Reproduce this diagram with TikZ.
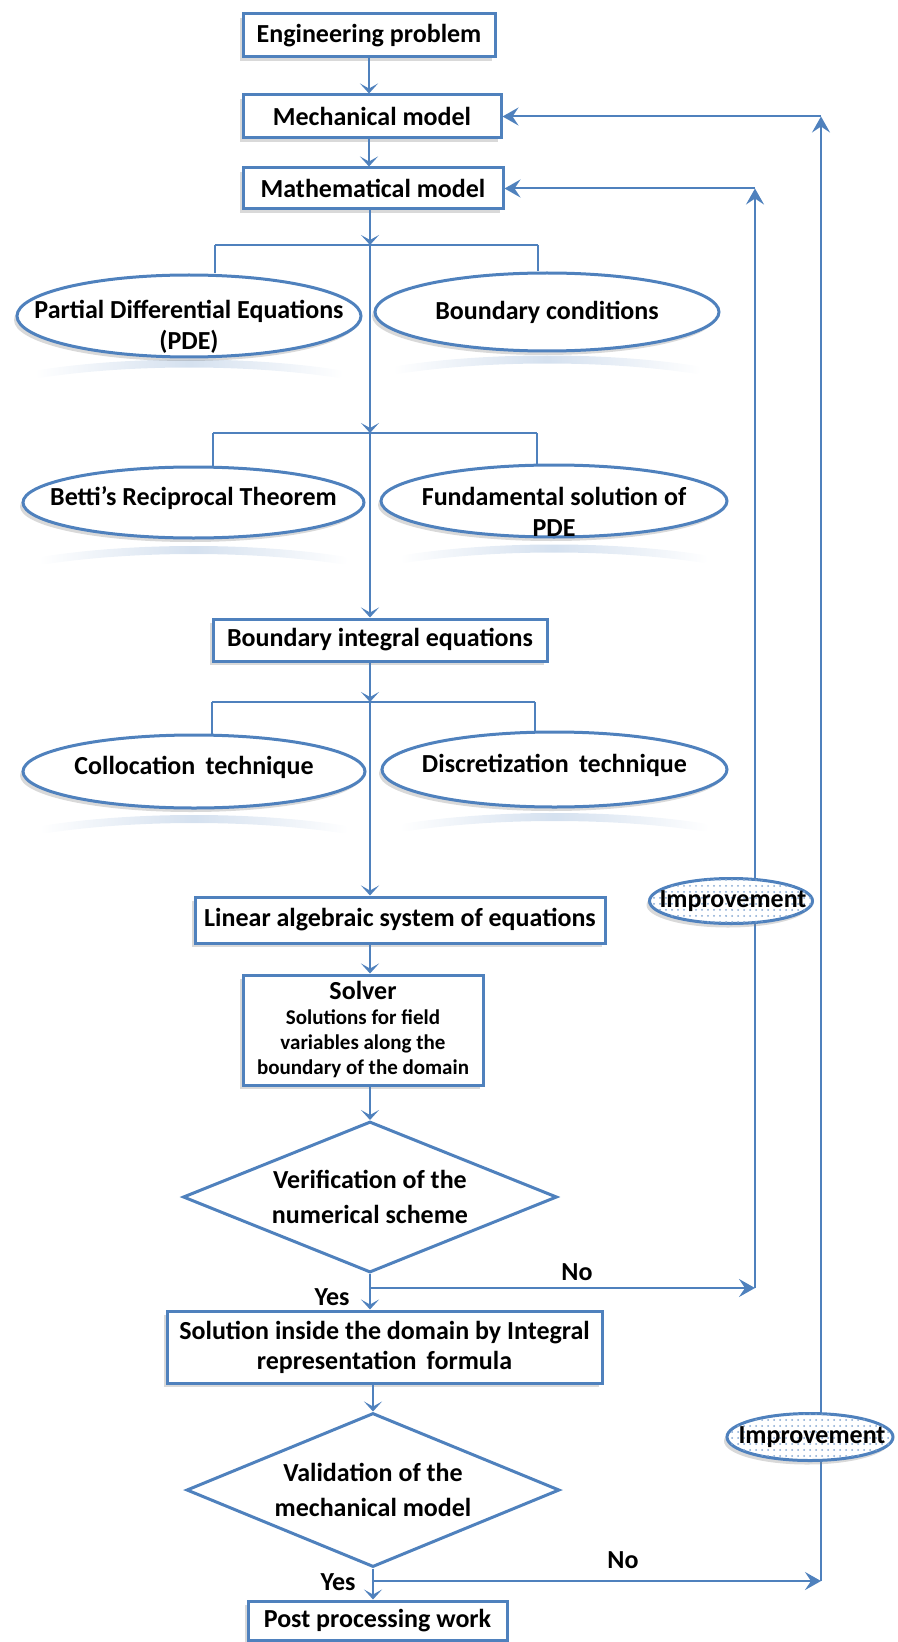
\documentclass[tikz,border=0pt]{standalone}
\usepackage{fontspec}
\setmainfont{Carlito}
\usetikzlibrary{shapes.geometric,arrows.meta,shadows,patterns,calc,fadings}
\definecolor{myblue}{RGB}{79,129,189}
\tikzfading[name=fadesides, left color=transparent!100, right color=transparent!100, middle color=transparent!20]
\begin{document}
\begin{tikzpicture}[x=0.5pt,y=-0.5pt,
  txt/.style={font=\bfseries\fontsize{13}{15.5}\selectfont, text=black, align=center, inner sep=0pt},
  shad/.style={drop shadow={shadow xshift=-1.5pt, shadow yshift=-2pt, opacity=0.3}},
  box/.style={rectangle, draw=myblue, line width=1.5pt, fill=white, inner sep=0pt, shad,
              font=\bfseries\fontsize{13}{15}\selectfont, align=center},
  ell/.style={ellipse, draw=myblue, line width=1.5pt, fill=white, inner sep=0pt, shad},
  dia/.style={diamond, aspect=2.5, draw=myblue, line width=1.5pt, fill=white, inner sep=0pt,
              font=\bfseries\fontsize{13}{17.5}\selectfont, align=center},
  imp/.style={ellipse, draw=myblue, line width=1.5pt, fill=white, inner sep=0pt, shad,
              postaction={pattern=dots, pattern color=myblue!70}},
  ln/.style={draw=myblue, line width=1pt},
  arr/.style={ln, -{Stealth[length=5pt,width=9pt,inset=2.5pt]}},
  farr/.style={ln, -{Stealth[length=8pt,width=9pt,inset=3pt]}},
  refl/.style={draw=myblue!30, line width=4pt, line cap=round, path fading=fadesides},
  lab/.style={font=\bfseries\fontsize{13}{15}\selectfont, text=black, inner sep=0pt}
]
\useasboundingbox (0,0) rectangle (898,1642);

% central axis
\coordinate (ax) at (370,0);

% top boxes
\node[box, minimum width=126pt, minimum height=21.5pt] (eng) at (369,35.5) {Engineering problem};
\node[box, minimum width=129pt, minimum height=21.5pt] (mech) at (372,116.5) {Mechanical model};
\node[box, minimum width=130pt, minimum height=20.5pt] (math) at (373,188.5) {Mathematical model};

% reflections (drawn first, below everything)
\foreach \cx/\cy in {189/316,547/312,193.5/502.5,554/501,194/771.5,554.5/769.5}{
  \draw[refl] (\cx-150,\cy+58) .. controls (\cx-60,\cy+44) and (\cx+60,\cy+44) .. (\cx+150,\cy+58);
}

% first pair of ellipses
\node[ell, minimum width=172pt, minimum height=41pt] (pde) at (189,316) {};
\node[txt] (pdet) at ([yshift=-5.5pt]pde.center) {Partial Differential Equations\\(PDE)};
\node[ell, minimum width=172pt, minimum height=39pt] (bc) at (547,312) {};
\node[txt] (bct) at (bc.center) {Boundary conditions};

% second pair
\node[ell, minimum width=170.5pt, minimum height=35.5pt] (betti) at (193.5,502.5) {};
\node[txt] (bettit) at ([yshift=2pt]betti.center) {Betti’s Reciprocal Theorem};
\node[ell, minimum width=173pt, minimum height=36pt] (fund) at (554,501) {};
\node[txt] (fundt) at ([yshift=-5.5pt]fund.center) {Fundamental solution of\\PDE};

\node[box, minimum width=167pt, minimum height=21pt] (bie) at (380,640) {Boundary integral equations};

% third pair
\node[ell, minimum width=171pt, minimum height=36.5pt] (coll) at (194,771.5) {};
\node[txt] (collt) at ([yshift=2pt]coll.center) {Collocation\, technique};
\node[ell, minimum width=172.5pt, minimum height=37.5pt] (disc) at (554.5,769.5) {};
\node[txt] (disct) at ([yshift=2pt]disc.center) {Discretization\, technique};

\node[box, minimum width=205pt, minimum height=23pt] (lin) at (400,920) {Linear algebraic system of equations};
\node[box, minimum width=120pt, minimum height=55pt, font=\bfseries\fontsize{10.5}{12.5}\selectfont] (solver) at (363,1030)
  {{\fontsize{13}{12.5}\selectfont Solver}\\Solutions for field\\variables along the\\boundary of the domain};
\node[dia, minimum width=187pt, minimum height=75.5pt] (ver) at (370,1197) {Verification of the\\numerical scheme};
\node[box, minimum width=217.5pt, minimum height=36pt] (sol) at (384.5,1347) {Solution inside the domain by Integral\\representation\, formula};
\node[dia, minimum width=186.5pt, minimum height=77pt] (val) at (373,1490) {Validation of the\\mechanical model};
\node[box, minimum width=129.5pt, minimum height=19.5pt] (post) at (377.5,1620.5) {Post processing work};

% branch coordinates
\coordinate (b1) at (370,245);
\coordinate (b1l) at (215,245);
\coordinate (b1r) at (538,245);
\coordinate (b2) at (370,433);
\coordinate (b2l) at (213,433);
\coordinate (b2r) at (537,433);
\coordinate (b3) at (370,702);
\coordinate (b3l) at (212,702);
\coordinate (b3r) at (535,702);
\coordinate (y1) at (370,1288);
\coordinate (f1) at (755,1288);
\coordinate (y2) at (373,1581);
\coordinate (f2) at (821,1581);
\coordinate (c1) at (f1 |- math.east);
\coordinate (c2) at (f2 |- mech.east);

% main flow
\draw[arr] (eng.south -| eng.center) -- (mech.north -| eng.center);
\draw[arr] (mech.south -| eng.center) -- (math.north -| eng.center);
\draw[arr] (math.south -| b1) -- (b1);
\draw[ln] (b1l) -- (b1r);
\draw[ln] (b1l) -- (b1l |- pde.north);
\draw[ln] (b1r) -- (b1r |- bc.north);
\draw[arr] (b1) -- (b2);
\draw[ln] (b2l) -- (b2r);
\draw[ln] (b2l) -- (b2l |- betti.north);
\draw[ln] (b2r) -- (b2r |- fund.north);
\draw[arr] (b2) -- (b2 |- bie.north);
\draw[arr] (bie.south -| b3) -- (b3);
\draw[ln] (b3l) -- (b3r);
\draw[ln] (b3l) -- (b3l |- coll.north);
\draw[ln] (b3r) -- (b3r |- disc.north);
\draw[arr] (b3) -- (b3 |- lin.north);
\draw[arr] (lin.south -| ax) -- (solver.north -| ax);
\draw[arr] (solver.south -| ax) -- (ver.north);
\draw[ln] (ver.south) -- (y1);
\draw[arr] (y1) -- (y1 |- sol.north);
\draw[arr] (sol.south -| val.north) -- (val.north);
\draw[ln] (val.south) -- (y2);
\draw[arr] (y2) -- (y2 |- post.north);

% feedback loops
\draw[farr] (y1) -- (f1);
\draw[farr] (f1) -- (c1);
\draw[farr] (c1) -- (math.east);
\draw[farr] (y2) -- (f2);
\draw[farr] (f2) -- (c2);
\draw[farr] (c2) -- (mech.east);

% labels
\node[lab] (no1) at (577,1272) {No};
\node[lab] (yes1) at (332,1297) {Yes};
\node[lab] (no2) at (623,1560) {No};
\node[lab] (yes2) at (338,1582) {Yes};

% improvement ellipses
\node[imp, minimum width=81.5pt, minimum height=22.5pt] (imp1) at (731,901) {};
\node[txt] (imp1t) at ([xshift=1pt]imp1.center) {Improvement};
\node[imp, minimum width=83pt, minimum height=23.5pt] (imp2) at (810,1437) {};
\node[txt] (imp2t) at ([xshift=1pt]imp2.center) {Improvement};
\end{tikzpicture}
\end{document}
